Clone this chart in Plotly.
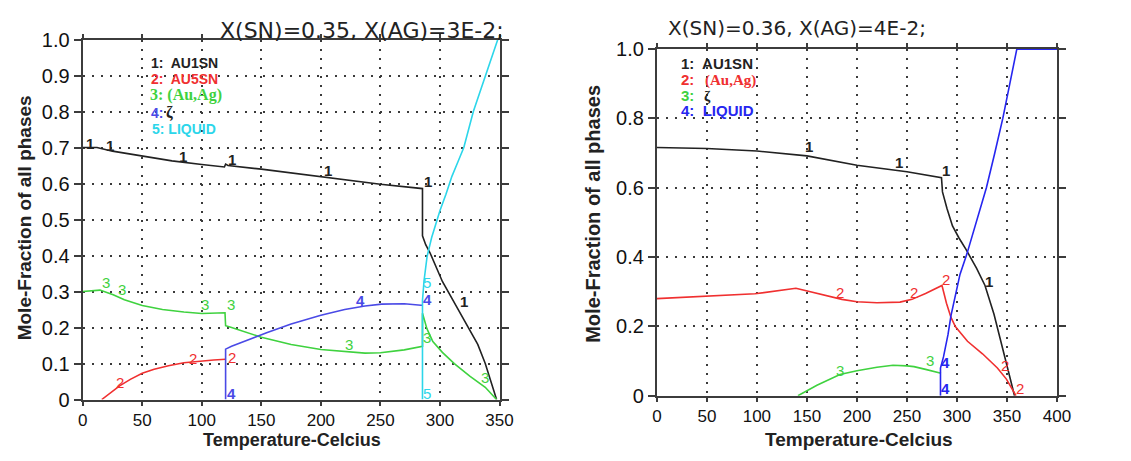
import plotly.graph_objects as go

W, H = 1131, 461

# ---------------- left panel: X(SN)=0.35, X(AG)=3E-2 ----------------
left_title = "X(SN)=0.35, X(AG)=3E-2;"
left_x_ticks = [0, 50, 100, 150, 200, 250, 300, 350]
left_y_ticks = [0, 0.1, 0.2, 0.3, 0.4, 0.5, 0.6, 0.7, 0.8, 0.9, 1.0]
left_y_text = ["0", "0.1", "0.2", "0.3", "0.4", "0.5", "0.6", "0.7", "0.8", "0.9", "1.0"]

# 1: AU1SN
l_au1sn_t = [0, 12, 25, 50, 75, 100, 119, 120, 122, 150, 200, 250, 285.3, 285.3,
             288, 291.7, 302, 312.4, 322.7, 331.7, 338, 343, 347.5]
l_au1sn_f = [0.700, 0.700, 0.690, 0.677, 0.663, 0.653, 0.646, 0.654, 0.650, 0.640,
             0.618, 0.598, 0.586, 0.455, 0.430, 0.407, 0.328, 0.267, 0.205, 0.153,
             0.100, 0.047, 0.0]
# 2: AU5SN
l_au5sn_t = [16, 25, 31, 40, 50, 60, 72, 85, 100, 110, 120]
l_au5sn_f = [0.0, 0.022, 0.038, 0.056, 0.073, 0.084, 0.094, 0.102, 0.108, 0.110, 0.112]
# 3: (Au,Ag)
l_auag_t = [0, 14.5, 25.6, 35, 50, 67, 85, 100, 119.5, 120, 125, 150, 175, 200, 237,
            250, 270, 285.3, 285.3, 289, 294, 302, 312, 325, 338, 343, 347.5]
l_auag_f = [0.300, 0.304, 0.291, 0.277, 0.261, 0.250, 0.243, 0.239, 0.241, 0.205,
            0.200, 0.173, 0.153, 0.139, 0.129, 0.130, 0.138, 0.148, 0.240, 0.197,
            0.161, 0.131, 0.100, 0.065, 0.034, 0.017, 0.0]
# 4: zeta
l_zeta_t = [120, 120, 125, 140, 155, 175, 200, 220, 237, 251, 270, 284, 285.3]
l_zeta_f = [0.0, 0.140, 0.148, 0.168, 0.186, 0.210, 0.234, 0.250, 0.260, 0.265,
            0.266, 0.262, 0.262]
# 5: LIQUID
l_liq_t = [285.3, 285.3, 286.6, 289.2, 293, 297, 300, 305, 310, 315, 320, 328, 338, 348.5]
l_liq_f = [0.0, 0.275, 0.330, 0.398, 0.450, 0.495, 0.525, 0.570, 0.620, 0.660,
           0.700, 0.800, 0.900, 1.0]

# curve tags on the left panel: (T, fraction)
l_tags_1 = [(6, 0.712), (23, 0.707), (84, 0.676), (125, 0.668), (206, 0.636),
            (290, 0.605), (320, 0.272), (350.5, 0.012)]
l_tags_2 = [(31, 0.046), (93, 0.113), (125, 0.118)]
l_tags_3 = [(20, 0.326), (33, 0.307), (102.6, 0.263), (124.6, 0.263), (223.7, 0.153),
            (288.7, 0.173), (338, 0.062)]
l_tags_4 = [(124.6, 0.018), (233, 0.276), (289.7, 0.278)]
l_tags_5 = [(289, 0.326), (288.7, 0.018), (350.3, 1.022)]

# ---------------- right panel: X(SN)=0.36, X(AG)=4E-2 ----------------
right_title = "X(SN)=0.36, X(AG)=4E-2;"
right_x_ticks = [0, 50, 100, 150, 200, 250, 300, 350, 400]
right_y_ticks = [0, 0.2, 0.4, 0.6, 0.8, 1.0]
right_y_text = ["0", "0.2", "0.4", "0.6", "0.8", "1.0"]

# 1: AU1SN
r_au1sn_t = [0, 50, 100, 150, 200, 250, 284.5, 285.5, 290, 295.5, 302, 309, 319.5,
             328, 337, 345, 351, 357.5]
r_au1sn_f = [0.716, 0.713, 0.706, 0.692, 0.665, 0.646, 0.629, 0.588, 0.540, 0.490,
             0.455, 0.422, 0.368, 0.318, 0.235, 0.148, 0.075, 0.0]
# 2: (Au,Ag)
r_auag_t = [0, 50, 98, 139, 150, 170, 185, 200, 220, 243, 255, 268.6, 285, 289.5,
            294, 298.5, 310.5, 325.5, 340.4, 349.4, 355.4, 359]
r_auag_f = [0.280, 0.287, 0.294, 0.310, 0.302, 0.288, 0.278, 0.271, 0.268, 0.270,
            0.278, 0.295, 0.318, 0.267, 0.226, 0.199, 0.157, 0.121, 0.080, 0.048,
            0.020, 0.0]
# 3: zeta
r_zeta_t = [141, 160, 183, 200, 220, 236, 250, 257, 268.6, 284]
r_zeta_f = [0.0, 0.030, 0.061, 0.072, 0.082, 0.088, 0.086, 0.084, 0.076, 0.065]
# 4: LIQUID
r_liq_t = [283.5, 283.5, 286.5, 291, 294, 298.5, 303, 310, 329.4, 337.6, 345.8, 359.8, 400]
r_liq_f = [0.0, 0.080, 0.112, 0.176, 0.231, 0.295, 0.350, 0.410, 0.600, 0.698,
           0.800, 1.0, 1.0]

r_tags_1 = [(-12.8, 0.733), (152, 0.72), (242, 0.673), (289.5, 0.651), (332, 0.329)]
r_tags_2 = [(182.7, 0.297), (257, 0.297), (289.5, 0.334), (348.4, 0.086), (363, 0.022)]
r_tags_3 = [(182.7, 0.073), (273, 0.101)]
r_tags_4 = [(288.7, 0.095), (288.7, 0.022), (365.4, 1.022)]

# ---------------- styling ----------------
BLACK = "#222222"
RED = "#f03030"
GREEN = "#3fd23f"
BLUE_L = "#4a4ae6"
BLUE_R = "#2626f0"
CYAN = "#2cd6ea"
AXIS = "#3c3c3c"
SANS = "Liberation Sans, Arial, sans-serif"
SERIF = "Liberation Serif, Times New Roman, serif"
WIDE = "DejaVu Sans, sans-serif"


def px(x):
    return x / W


def py(y):
    return 1 - y / H


fig = go.Figure()

series = [
    ("x", "y", l_au1sn_t, l_au1sn_f, BLACK),
    ("x", "y", l_au5sn_t, l_au5sn_f, RED),
    ("x", "y", l_auag_t, l_auag_f, GREEN),
    ("x", "y", l_zeta_t, l_zeta_f, BLUE_L),
    ("x", "y", l_liq_t, l_liq_f, CYAN),
    ("x2", "y2", r_au1sn_t, r_au1sn_f, BLACK),
    ("x2", "y2", r_auag_t, r_auag_f, RED),
    ("x2", "y2", r_zeta_t, r_zeta_f, GREEN),
    ("x2", "y2", r_liq_t, r_liq_f, BLUE_R),
]
for xa, ya, t, f, c in series:
    fig.add_trace(go.Scatter(x=t, y=f, mode="lines", xaxis=xa, yaxis=ya,
                             line=dict(color=c, width=1.6), showlegend=False,
                             hoverinfo="skip"))

annotations = []


def tags(points, label, color, xref, yref, bold=True):
    for t, f in points:
        txt = f"<b>{label}</b>" if bold else label
        annotations.append(dict(x=t, y=f, xref=xref, yref=yref, text=txt,
                                showarrow=False, font=dict(family=SANS, size=15, color=color)))


tags(l_tags_1, "1", BLACK, "x", "y")
tags(l_tags_2, "2", RED, "x", "y", bold=False)
tags(l_tags_3, "3", GREEN, "x", "y", bold=False)
tags(l_tags_4, "4", BLUE_L, "x", "y")
tags(l_tags_5, "5", CYAN, "x", "y", bold=False)
tags(r_tags_1, "1", BLACK, "x2", "y2")
tags(r_tags_2, "2", RED, "x2", "y2", bold=False)
tags(r_tags_3, "3", GREEN, "x2", "y2", bold=False)
tags(r_tags_4, "4", BLUE_R, "x2", "y2")


def text(x, y, s, color=BLACK, size=13, family=SANS, anchor="left", angle=0, vanchor="middle"):
    annotations.append(dict(x=px(x), y=py(y), xref="paper", yref="paper", text=s,
                            showarrow=False, xanchor=anchor, yanchor=vanchor,
                            borderpad=0, borderwidth=0, textangle=angle,
                            font=dict(family=family, size=size, color=color)))


# phase key, left panel
text(148, 55, "<b>1:  AU1SN</b>", BLACK, size=14)
text(148, 71, "<b>2:  AU5SN</b>", RED, size=14)
text(147, 88, "<b>3: (Au,Ag)</b>", GREEN, size=16, family=SERIF)
text(148, 107, "<b>4:</b>", BLUE_L, size=14)
text(164, 107, "<b>ζ</b>", BLACK, size=16, family=SERIF)
text(150, 124, "<b>5: LIQUID</b>", CYAN, size=14)

# phase key, right panel
text(688, 55, "<b>1:  AU1SN</b>", BLACK, size=15)
text(688, 72, "<b>2:</b>", RED, size=15)
text(712, 73, "<b>(Au,Ag)</b>", RED, size=15, family=SERIF)
text(688, 89, "<b>3:</b>", GREEN, size=15)
text(711, 89, "<b>ζ</b>", BLACK, size=15, family=SERIF)
text(688, 105, "<b>4:  LIQUID</b>", BLUE_R, size=15)

# panel titles
text(363, 20, left_title, BLACK, size=22, family=WIDE, anchor="center")
text(806, 18, right_title, BLACK, size=20, family=WIDE, anchor="center")

# axis titles
text(292, 461, "<b>Temperature-Celcius</b>", BLACK, size=18, anchor="center", vanchor="bottom")
text(869, 461, "<b>Temperature-Celcius</b>", BLACK, size=19, anchor="center", vanchor="bottom")
text(20, 217, "<b>Mole-Fraction of all phases</b>", BLACK, size=19, anchor="center", angle=-90)
text(598, 213, "<b>Mole-Fraction of all phases</b>", BLACK, size=20, anchor="center", angle=-90)

# white boxes behind the phase keys (hide the grid there)
shapes = [
    dict(type="rect", xref="paper", yref="paper", x0=px(137), x1=px(329),
         y0=py(132), y1=py(42), fillcolor="white", line=dict(width=0), layer="between"),
    dict(type="rect", xref="paper", yref="paper", x0=px(683), x1=px(812),
         y0=py(125), y1=py(43), fillcolor="white", line=dict(width=0), layer="between"),
]

axis_common = dict(
    showline=True, linecolor=AXIS, linewidth=2, mirror="ticks",
    ticks="outside", ticklen=7, tickwidth=2, tickcolor=AXIS,
    showgrid=True, gridcolor="#3a3a3a", gridwidth=1.8, griddash="2px,7px",
    zeroline=False, tickfont=dict(family=SANS, size=20, color="#111111"),
    fixedrange=True,
)

fig.update_layout(
    width=W, height=H, margin=dict(l=0, r=0, t=0, b=0),
    paper_bgcolor="white", plot_bgcolor="white",
    showlegend=False,
    xaxis=dict(domain=[px(79), px(503)], range=[0, 350], tickvals=left_x_ticks,
               anchor="y", ticklabelstandoff=0, **axis_common),
    yaxis=dict(domain=[py(408), py(30)], range=[0, 1], tickvals=left_y_ticks,
               ticktext=left_y_text, anchor="x", **axis_common),
    xaxis2=dict(domain=[px(663), px(1070)], range=[0, 400], tickvals=right_x_ticks,
                anchor="y2", layer="below traces", ticklabelstandoff=0, **axis_common),
    yaxis2=dict(domain=[py(404), py(40)], range=[0, 1], tickvals=right_y_ticks,
                ticktext=right_y_text, anchor="x2", layer="below traces", **axis_common),
    annotations=annotations,
    shapes=shapes,
)

fig.update_xaxes(tickfont=dict(size=17), ticklen=4)

fig.write_html("out.html")
